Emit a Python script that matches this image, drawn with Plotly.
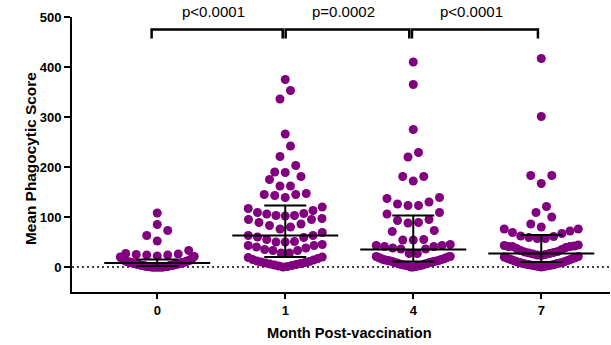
import numpy as np
import plotly.graph_objects as go

# ---------------- data ----------------
months = ["0", "1", "4", "7"]

month0 = [108, 85, 73, 63, 52, 33, 27, 26, 25, 24, 24, 22,
          21, 20, 19, 18, 16,
          15, 14, 14, 13, 12, 12, 11, 11, 10, 10, 10, 9, 9, 9, 8, 8, 8,
          7, 7, 6, 6, 6, 5, 5, 5, 4, 4, 4, 3, 3, 3, 3, 2, 2,
          2, 1, 1, 1, 1, 1, 1, 0, 0, 0, 0, 0, 0, 0, 0, 0, 0]

month1 = [375, 353, 336, 266, 242, 221, 203, 190, 189, 181, 175, 162, 162,
          145, 143, 139, 145, 147,
          120, 113, 107, 103, 103, 102, 106, 109, 117,
          97, 95, 86, 80, 76, 83, 89, 95,
          69, 63, 59, 51, 50, 50, 55, 60, 63,
          43, 40, 35, 33, 28, 28, 33, 38, 43, 45,
          20, 19, 17, 15, 14, 12, 11, 10, 9, 8, 7, 6, 5, 4, 3, 2, 1, 0]

month4 = [410, 365, 275, 229, 220, 181, 181, 172,
          139, 137, 130, 126, 123, 123,
          109, 106, 95, 93, 89, 88,
          73, 71, 55, 54, 54,
          45, 43, 43, 41, 41, 38, 36, 36, 27, 27,
          21, 21, 20, 19, 18, 17, 16, 15, 15, 14, 13, 13, 12, 12, 11, 11,
          10, 9, 9, 8, 7, 6, 6, 5, 4, 4, 3, 3, 2, 2, 1, 0, 0]

month7 = [417, 301, 183, 183, 167, 121, 109, 100, 86, 80,
          76, 76, 72, 69, 67, 62, 61, 59, 57, 57,
          44, 43, 42, 41, 41, 41, 39, 37, 35, 33, 31, 30, 29, 28,
          27, 26, 25, 24, 23,
          21, 20, 19, 18, 17, 16, 15, 14, 13, 12, 11, 10,
          9, 9, 8, 7, 7, 6, 5, 5, 4, 4, 3, 3, 2, 2, 1, 1, 0]

groups = [month0, month1, month4, month7]

medians = [8, 63, 35, 27]
q1 = [2, 20, 11, 10]
q3 = [15, 123, 103, 64]

p_labels = ["p<0.0001", "p=0.0002", "p<0.0001"]

x_title = "Month Post-vaccination"
y_title = "Mean Phagocytic Score"

# ---------------- geometry ----------------
W, H = 611, 345
ML, MR, MT, MB = 72, 1, 17, 53
XR = [-0.666, 3.537]
YR = [-50, 500]
PLOT_H = H - MT - MB
px_per_x = (W - ML - MR) / (XR[1] - XR[0])

PURPLE = "#800080"
FONT = "Arial, Liberation Sans, sans-serif"


def swarm_offsets(values, window=22, spacing_px=10.5, max_span_px=74):
    """Row based scatter-dot layout: values within a window share a row,
    lowest value in the centre, higher values alternating outward."""
    vals = np.asarray(values, dtype=float)
    order = np.argsort(vals, kind="stable")
    offsets = np.zeros(len(vals))
    i = 0
    while i < len(order):
        start = vals[order[i]]
        j = i
        while j < len(order) and vals[order[j]] < start + window:
            j += 1
        row = order[i:j]
        k = len(row)
        step = spacing_px if k < 2 else min(spacing_px, max_span_px / (k - 1))
        if k % 2:
            slots = [0] + [s for n in range(1, k // 2 + 1) for s in (-n, n)]
        else:
            slots = [s for n in range(k // 2) for s in (-(n + 0.5), n + 0.5)]
        for idx, s in zip(row, slots):
            offsets[idx] = s * step / px_per_x
        i = j
    return offsets


def paper_y(py):
    """pixel row (from top of page) -> paper y"""
    return (H - MB - py) / PLOT_H


fig = go.Figure()

# dots
for gi, vals in enumerate(groups):
    off = swarm_offsets(vals)
    fig.add_trace(go.Scatter(
        x=gi + off, y=vals, mode="markers",
        marker=dict(color=PURPLE, size=9, line=dict(width=0)),
        showlegend=False, hoverinfo="skip"))

# median + IQR bars
med_half = 53 / px_per_x
cap_half = 21 / px_per_x
ex, ey = [], []
for gi in range(len(groups)):
    ex += [gi - med_half, gi + med_half, None]
    ey += [medians[gi], medians[gi], None]
    ex += [gi, gi, None]
    ey += [q1[gi], q3[gi], None]
    ex += [gi - cap_half, gi + cap_half, None]
    ey += [q3[gi], q3[gi], None]
    ex += [gi - cap_half, gi + cap_half, None]
    ey += [q1[gi], q1[gi], None]
fig.add_trace(go.Scatter(x=ex, y=ey, mode="lines",
                         line=dict(color="black", width=2),
                         showlegend=False, hoverinfo="skip"))

# significance brackets
br_start = [-0.044, 1.003, 1.99]
br_end = [0.98, 1.969, 2.974]
bx, by = [], []
annotations = []
for i, lab in enumerate(p_labels):
    x0, x1 = br_start[i], br_end[i]
    bx += [x0, x0, x1, x1, None]
    by += [457, 475, 475, 457, None]
    annotations.append(dict(x=(x0 + x1) / 2 - 0.03, y=paper_y(11.5),
                            xref="x", yref="paper",
                            text=lab, showarrow=False, yanchor="middle",
                            xanchor="center",
                            font=dict(family=FONT, size=15, color="black")))
fig.add_trace(go.Scatter(x=bx, y=by, mode="lines",
                         line=dict(color="black", width=2.5),
                         showlegend=False, hoverinfo="skip", cliponaxis=False))

# axis titles (GraphPad centres the x title on the data columns)
annotations.append(dict(x=1.5, y=paper_y(333), xref="x", yref="paper",
                        text=x_title, showarrow=False,
                        xanchor="center", yanchor="middle",
                        font=dict(family=FONT, size=14.6, color="black",
                                  weight="bold")))
annotations.append(dict(x=(30 - ML) / (W - ML - MR), y=paper_y(159),
                        xref="paper", yref="paper",
                        text=y_title, showarrow=False, textangle=-90,
                        xanchor="center", yanchor="middle",
                        font=dict(family=FONT, size=15.4, color="black",
                                  weight="bold")))

# dotted zero line
fig.add_shape(type="line", xref="paper", x0=0, x1=1, yref="y", y0=0, y1=0,
              line=dict(color="black", width=1.5, dash="2px,3px"), layer="below")

axis_common = dict(showline=True, linewidth=2, linecolor="black",
                   ticks="outside", tickwidth=2, tickcolor="black",
                   showgrid=False, zeroline=False,
                   tickfont=dict(family=FONT, size=13, color="black", weight="bold"))

fig.update_layout(
    width=W, height=H,
    margin=dict(l=ML, r=MR, t=MT, b=MB),
    plot_bgcolor="white", paper_bgcolor="white",
    xaxis=dict(range=XR, tickvals=[0, 1, 2, 3], ticktext=months, ticklen=5,
               **axis_common),
    yaxis=dict(range=YR, tickvals=[0, 100, 200, 300, 400, 500], ticklen=6,
               **axis_common),
    annotations=annotations,
)

fig.write_html("out.html")
